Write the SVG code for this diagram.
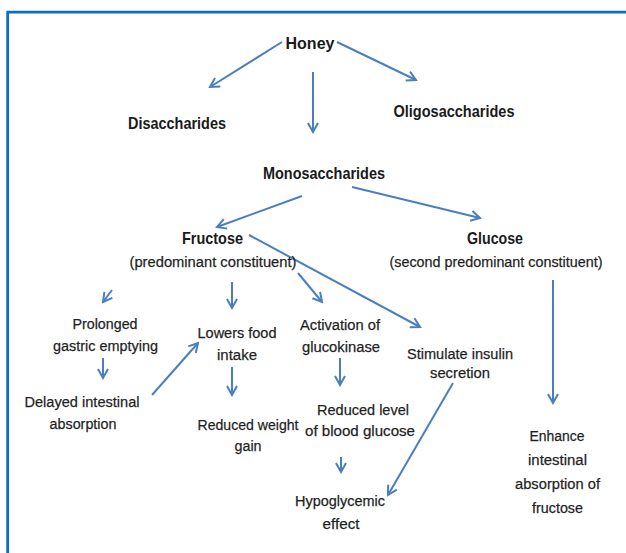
<svg xmlns="http://www.w3.org/2000/svg" width="626" height="553" viewBox="0 0 626 553">
<defs>
<style>
.b{font-family:"Liberation Sans",Arial,sans-serif;font-weight:bold;font-size:17px;fill:#1a1a1a;text-anchor:middle}
.r{font-family:"Liberation Sans",Arial,sans-serif;font-size:15.5px;fill:#1f1f1f;stroke:#1f1f1f;stroke-width:0.25;text-anchor:middle}
.c line{stroke:#4a7fbf;stroke-width:2;fill:none;marker-end:url(#ah)}
</style>
<marker id="ah" markerUnits="userSpaceOnUse" viewBox="-11 -7 13 14" refX="0" refY="0" markerWidth="13" markerHeight="14" orient="auto">
<path d="M-9,-5 L0,0 L-9,5" fill="none" stroke="#4a7fbf" stroke-width="2"/>
</marker>
</defs>
<rect width="626" height="553" fill="#ffffff"/>
<path d="M7.7,553 V12.2 H626" fill="none" stroke="#0a6fc2" stroke-width="2.8"/>
<g class="c" id="connectors">
<line x1="282" y1="42" x2="210" y2="87"/>
<line x1="337" y1="42" x2="416" y2="80"/>
<line x1="313" y1="72" x2="313" y2="132"/>
<line x1="302" y1="196" x2="217" y2="227"/>
<line x1="352" y1="187" x2="480" y2="218"/>
<line x1="112" y1="290" x2="103" y2="302"/>
<line x1="232" y1="282" x2="232" y2="308"/>
<line x1="298" y1="273" x2="322" y2="302"/>
<line x1="249" y1="235" x2="420" y2="327"/>
<line x1="103" y1="358" x2="103" y2="378"/>
<line x1="152" y1="395" x2="198" y2="343"/>
<line x1="232" y1="367" x2="232" y2="395"/>
<line x1="340" y1="358" x2="340" y2="385"/>
<line x1="341" y1="457" x2="341" y2="472"/>
<line x1="453" y1="383" x2="388" y2="495"/>
<line x1="553" y1="280" x2="553" y2="403"/>
</g>
<g id="honey"><text class="b" x="310" y="49" textLength="49" lengthAdjust="spacingAndGlyphs">Honey</text></g>
<g id="disaccharides"><text class="b" x="177" y="129" textLength="98" lengthAdjust="spacingAndGlyphs">Disaccharides</text></g>
<g id="oligosaccharides"><text class="b" x="454" y="117" textLength="121" lengthAdjust="spacingAndGlyphs">Oligosaccharides</text></g>
<g id="monosaccharides"><text class="b" x="324" y="179" textLength="122" lengthAdjust="spacingAndGlyphs">Monosaccharides</text></g>
<g id="fructose">
<text class="b" x="212.5" y="244" textLength="61" lengthAdjust="spacingAndGlyphs">Fructose</text>
<text class="r" x="213" y="267" textLength="167" lengthAdjust="spacingAndGlyphs">(predominant constituent)</text>
</g>
<g id="glucose">
<text class="b" x="495" y="244" textLength="56" lengthAdjust="spacingAndGlyphs">Glucose</text>
<text class="r" x="496" y="267" textLength="213" lengthAdjust="spacingAndGlyphs">(second predominant constituent)</text>
</g>
<g id="prolonged">
<text class="r" x="105" y="329" textLength="65" lengthAdjust="spacingAndGlyphs">Prolonged</text>
<text class="r" x="105.5" y="351" textLength="105" lengthAdjust="spacingAndGlyphs">gastric emptying</text>
</g>
<g id="delayed">
<text class="r" x="82" y="407" textLength="115" lengthAdjust="spacingAndGlyphs">Delayed intestinal</text>
<text class="r" x="83" y="429" textLength="67" lengthAdjust="spacingAndGlyphs">absorption</text>
</g>
<g id="lowers">
<text class="r" x="237" y="338" textLength="79" lengthAdjust="spacingAndGlyphs">Lowers food</text>
<text class="r" x="237" y="360" textLength="40" lengthAdjust="spacingAndGlyphs">intake</text>
</g>
<g id="reduced-weight">
<text class="r" x="248" y="430" textLength="101" lengthAdjust="spacingAndGlyphs">Reduced weight</text>
<text class="r" x="248" y="451" textLength="27" lengthAdjust="spacingAndGlyphs">gain</text>
</g>
<g id="activation">
<text class="r" x="340" y="330" textLength="80" lengthAdjust="spacingAndGlyphs">Activation of</text>
<text class="r" x="341" y="352" textLength="78" lengthAdjust="spacingAndGlyphs">glucokinase</text>
</g>
<g id="stimulate">
<text class="r" x="460" y="359" textLength="106" lengthAdjust="spacingAndGlyphs">Stimulate insulin</text>
<text class="r" x="460" y="378" textLength="60" lengthAdjust="spacingAndGlyphs">secretion</text>
</g>
<g id="reduced-level">
<text class="r" x="363" y="415" textLength="92" lengthAdjust="spacingAndGlyphs">Reduced level</text>
<text class="r" x="360" y="436" textLength="110" lengthAdjust="spacingAndGlyphs">of blood glucose</text>
</g>
<g id="hypoglycemic">
<text class="r" x="340" y="506" textLength="90" lengthAdjust="spacingAndGlyphs">Hypoglycemic</text>
<text class="r" x="341" y="529" textLength="37" lengthAdjust="spacingAndGlyphs">effect</text>
</g>
<g id="enhance">
<text class="r" x="557" y="441" textLength="55" lengthAdjust="spacingAndGlyphs">Enhance</text>
<text class="r" x="557.5" y="465" textLength="59" lengthAdjust="spacingAndGlyphs">intestinal</text>
<text class="r" x="557.5" y="489" textLength="85" lengthAdjust="spacingAndGlyphs">absorption of</text>
<text class="r" x="557.5" y="513" textLength="51" lengthAdjust="spacingAndGlyphs">fructose</text>
</g>
</svg>
